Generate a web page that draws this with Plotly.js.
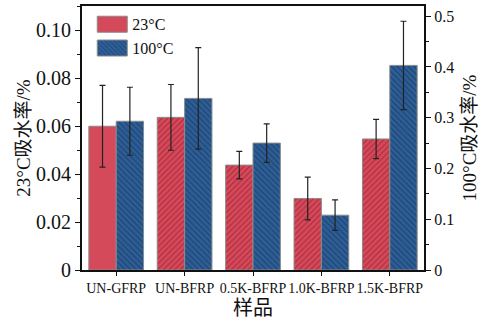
<!DOCTYPE html>
<html>
<head>
<meta charset="utf-8">
<script src="https://cdn.plot.ly/plotly-3.0.1.min.js"></script>
<style>html,body{margin:0;padding:0;background:#fff;}#chart{width:483px;height:321px;}</style>
</head>
<body>
<div id="chart"></div>
<script>
const categories = ["UN-GFRP", "UN-BFRP", "0.5K-BFRP", "1.0K-BFRP", "1.5K-BFRP"];
const rate23 = [0.0599, 0.0636, 0.0437, 0.0298, 0.0546];
const err23 = [0.0170, 0.0137, 0.0057, 0.0089, 0.0082];
const rate100 = [0.293, 0.338, 0.250, 0.108, 0.403];
const err100 = [0.067, 0.100, 0.038, 0.030, 0.087];
const seriesNames = ["23°C", "100°C"];

const serif = "'Liberation Serif', 'Times New Roman', 'Noto Sans CJK SC', serif";
const red = "#d54a5b", blue = "#2d5e96";

const traces = [
  {
    type: "bar", name: seriesNames[0], x: categories, y: rate23, yaxis: "y",
    offsetgroup: "a",
    marker: {color: red, line: {color: "#8a8a8a", width: 1},
      pattern: {shape: ["", "/", "/", "/", "/"], fgcolor: "#a8283a", bgcolor: red, size: 4, solidity: 0.25}},
    error_y: {type: "data", array: err23, visible: true, color: "#222", thickness: 1.2, width: 3}
  },
  {
    type: "bar", name: seriesNames[1], x: categories, y: rate100, yaxis: "y2",
    offsetgroup: "b",
    marker: {color: blue, line: {color: "#8a8a8a", width: 1},
      pattern: {shape: "\\", fgcolor: "#1d3f6a", bgcolor: blue, size: 4, solidity: 0.25}},
    error_y: {type: "data", array: err100, visible: true, color: "#222", thickness: 1.2, width: 3}
  }
];

const layout = {
  width: 483, height: 321,
  margin: {l: 82, r: 59, t: 6, b: 51},
  paper_bgcolor: "#fff", plot_bgcolor: "#fff",
  barmode: "group", bargap: 0.2, bargroupgap: 0,
  showlegend: true,
  legend: {x: 0.03, y: 0.995, xanchor: "left", yanchor: "top", bgcolor: "rgba(0,0,0,0)",
    font: {family: serif, size: 16, color: "#111"}, tracegroupgap: 0, itemwidth: 30},
  font: {family: serif, color: "#111"},
  xaxis: {
    type: "category", range: [-0.5, 4.5], tickangle: 0,
    showline: true, linecolor: "#111", linewidth: 2, mirror: true,
    ticks: "outside", ticklen: 4, tickwidth: 1, tickcolor: "#111",
    tickfont: {family: serif, size: 14, color: "#111"},
    title: {text: "样品", font: {family: serif, size: 20, color: "#111"}, standoff: 6},
    showgrid: false, zeroline: false
  },
  yaxis: {
    range: [0, 0.11],
    tickvals: [0, 0.02, 0.04, 0.06, 0.08, 0.10],
    ticktext: ["0", "0.02", "0.04", "0.06", "0.08", "0.10"],
    showline: true, linecolor: "#111", linewidth: 2,
    ticks: "outside", ticklen: 5, tickwidth: 1, tickcolor: "#111",
    minor: {dtick: 0.01, ticks: "outside", ticklen: 3, tickcolor: "#111", showgrid: false},
    tickfont: {family: serif, size: 20, color: "#111"},
    title: {text: "23°C吸水率/%", font: {family: serif, size: 19, color: "#111"}, standoff: 0},
    showgrid: false, zeroline: false
  },
  yaxis2: {
    overlaying: "y", side: "right", range: [0, 0.52],
    tickvals: [0, 0.1, 0.2, 0.3, 0.4, 0.5],
    ticktext: ["0", "0.1", "0.2", "0.3", "0.4", "0.5"],
    showline: true, linecolor: "#111", linewidth: 2,
    ticks: "outside", ticklen: 5, tickwidth: 1, tickcolor: "#111",
    minor: {dtick: 0.05, ticks: "outside", ticklen: 3, tickcolor: "#111", showgrid: false},
    tickfont: {family: serif, size: 16, color: "#111"},
    title: {text: "100°C吸水率/%", font: {family: serif, size: 19, color: "#111"}, standoff: 9},
    showgrid: false, zeroline: false
  }
};

Plotly.newPlot("chart", traces, layout, {staticPlot: true, displayModeBar: false}).then(function(gd){
  gd.querySelectorAll(".legend .legendpoints path").forEach(function(p){
    p.setAttribute("d", "M-15,-8H15V8H-15Z");
  });
});
</script>
</body>
</html>
